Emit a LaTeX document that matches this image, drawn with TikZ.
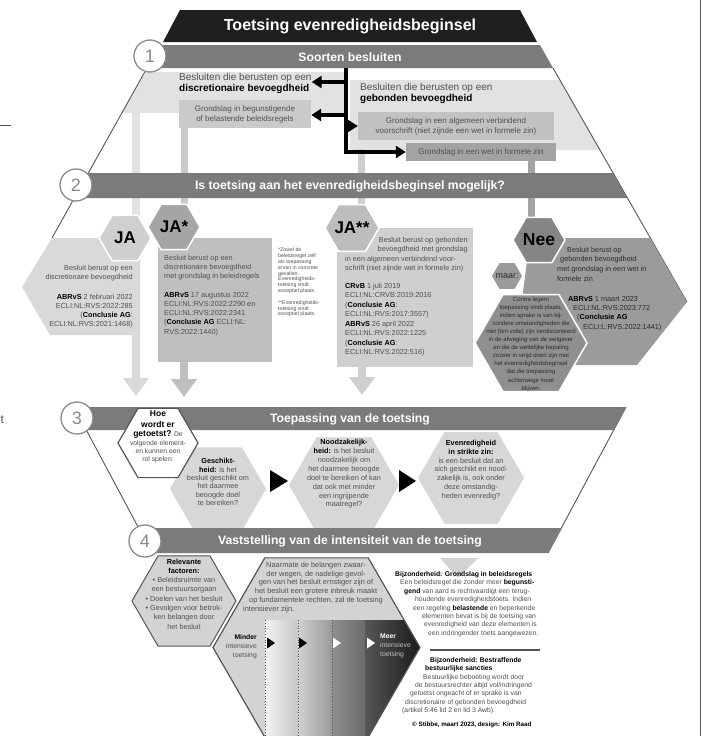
\documentclass[tikz,border=0pt]{standalone}
\usepackage{fontspec}
\setmainfont{Liberation Sans}
\usetikzlibrary{shapes.geometric,arrows.meta}

\definecolor{titlebar}{HTML}{1F1F1F}
\definecolor{barfill}{HTML}{7B7B7B}
\definecolor{ringgrey}{HTML}{8A8A8A}
\definecolor{paleregion}{HTML}{E2E2E2}
\definecolor{boxone}{HTML}{CACACA}
\definecolor{boxtwo}{HTML}{C2C2C2}
\definecolor{boxthree}{HTML}{A3A3A3}
\definecolor{jafill}{HTML}{D9D9D9}
\definecolor{jahex}{HTML}{CFCFCF}
\definecolor{jastarhex}{HTML}{A5A5A5}
\definecolor{jastarbox}{HTML}{BFBFBF}
\definecolor{jaduohex}{HTML}{BDBDBD}
\definecolor{jaduobox}{HTML}{CFCFCF}
\definecolor{neehex}{HTML}{858585}
\definecolor{neeshape}{HTML}{9B9B9B}
\definecolor{contrahex}{HTML}{8F8F8F}
\definecolor{maarhex}{HTML}{9A9A9A}
\definecolor{stephex}{HTML}{D7D7D7}
\definecolor{factorhex}{HTML}{D3D3D3}
\definecolor{edgegrey}{HTML}{555555}
\definecolor{bodytext}{HTML}{505050}
\definecolor{neetext}{HTML}{2B2B2B}

\newcommand{\fsz}[2]{\fontsize{#1}{#2}\selectfont}
\newcommand{\darkb}[1]{\textbf{\textcolor{black}{#1}}}

\tikzset{
  hexa/.style={regular polygon, regular polygon sides=6, minimum size=#1,
    inner sep=0pt, outer sep=0pt},
  ring/.style={circle, draw=ringgrey, line width=1.3pt, fill=white,
    minimum size=32pt, inner sep=0pt, text=ringgrey, font=\fsz{18}{18}},
  bartext/.style={text=white, font=\bfseries\fsz{12.2}{12.2}},
  body/.style={text=bodytext, font=\fsz{7.3}{9}, inner sep=0pt},
  boxtext/.style={text=bodytext, font=\fsz{8}{10}, inner sep=0pt, align=center},
  bignum/.style={text=black, font=\bfseries\fsz{17}{17}},
  trunk/.style={line width=3.6pt, -{Triangle[length=10pt,width=12pt]}},
  fatarrow/.style={line width=8pt, -{Triangle[length=18pt,width=25pt]}},
  rimline/.style={edgegrey, line width=0.9pt}
}

\begin{document}
\begin{tikzpicture}[x=1pt,y=-1pt]
  \fill[white] (0,0) rectangle (702,736);
  \useasboundingbox (0,0) rectangle (702,736);
  \draw[edgegrey, line width=0.8pt] (700,0) -- (700,736);
  \draw[edgegrey, line width=0.8pt] (0,125) -- (11,125);
  \node[anchor=base west, inner sep=0pt, text=edgegrey, font=\fsz{12}{12}] (stray) at (0.5,423) {t};

  \fill[titlebar] (180,10) -- (520,10) -- (537,42) -- (163,42) -- cycle;
  \node[text=white, font=\bfseries\fsz{16}{16}] (title) at (350,26) {Toetsing evenredigheidsbeginsel};

  \fill[paleregion] (146,72) -- (346,72) -- (346,113) -- (122,113) -- cycle;
  \fill[paleregion] (350,80) -- (560,80) -- (600,150) -- (350,150) -- cycle;
  \draw[rimline] (147,68) -- (52,238);
  \draw[rimline] (553,68) -- (687,302);

  \coordinate (shJA)    at (136,112);
  \coordinate (shJAend) at (136,225);
  \coordinate (shJAs)   at (184,127);
  \coordinate (shJAsend) at (184,215);
  \coordinate (shJAss)  at (361,149);
  \coordinate (shJAssend) at (361,215);
  \coordinate (shNee)   at (531,160);
  \coordinate (shNeeend) at (531,225);
  \draw[paleregion, line width=8pt] (shJA) -- (shJAend);
  \draw[boxone, line width=7pt] (shJAs) -- (shJAsend);
  \draw[jaduobox, line width=7pt] (shJAss) -- (shJAssend);
  \draw[boxthree, line width=7pt] (shNee) -- (shNeeend);

  \fill[barfill] (150,45) -- (540,45) -- (553,68) -- (150,68) -- cycle;
  \node[bartext] (sec1) at (350,57) {Soorten besluiten};

  \node[fill=boxone, minimum width=132pt, minimum height=28pt, boxtext] (beleid) at (245,114)
    {Grondslag in begunstigende\\of belastende beleidsregels};
  \node[fill=boxtwo, minimum width=196pt, minimum height=28pt, boxtext] (avv) at (456,126)
    {Grondslag in een algemeen verbindend\\voorschrift (niet zijnde een wet in formele zin)};
  \node[fill=boxthree, minimum width=150pt, minimum height=18pt, boxtext] (wfz) at (481,152)
    {Grondslag in een wet in formele zin};
  \node[anchor=north west, align=left, text=bodytext, font=\fsz{10}{11.5}, inner sep=0pt] (discr) at (179,72.7)
    {Besluiten die berusten op een\\\darkb{discretionaire bevoegdheid}};
  \node[anchor=north west, align=left, text=bodytext, font=\fsz{10}{11.5}, inner sep=0pt] (gebon) at (360,83)
    {Besluiten die berusten op een\\\darkb{gebonden bevoegdheid}};

  \coordinate (top) at (346,68);
  \coordinate (k1) at (346,82);
  \coordinate (k2) at (346,115);
  \coordinate (k3) at (346,126);
  \draw[trunk] (top) |- (wfz.west);
  \draw[trunk] (k1) -- (discr.east |- k1);
  \draw[trunk] (k2) -- (beleid.east |- k2);
  \draw[trunk] (k3) -- (avv.west |- k3);

  \fill[barfill] (76,173) -- (613,173) -- (627,198) -- (76,198) -- cycle;
  \node[bartext] (sec2) at (350,186) {Is toetsing aan het evenredigheidsbeginsel mogelijk?};

  \fill[jafill] (52,238) -- (140,238) -- (140,335) -- (50,335) -- (22,287) -- cycle;
  \node[hexa=52pt, fill=jahex, draw=white, line width=1.5pt] (hexJA) at (125,238) {};
  \node[bignum] (lblJA) at (hexJA) {JA};
  \node[body, anchor=north east, align=right] (txtJA) at (133,264.7)
    {Besluit berust op een\\discretionaire bevoegdheid\\[11pt]\darkb{ABRvS} 2 februari 2022\\ECLI:NL:RVS:2022:285\\(\darkb{Conclusie AG}:\\ECLI:NL:RVS:2021:1468)};

  \node[fill=jastarbox, minimum width=114pt, minimum height=124pt, inner sep=0pt] (boxJAs) at (215,300) {};
  \node[hexa=52pt, fill=jastarhex, draw=white, line width=1.5pt] (hexJAs) at (174,227) {};
  \node[bignum] (lblJAs) at (hexJAs) {JA*};
  \node[body, font=\fsz{7.3}{9.3}, anchor=north west, align=left] (txtJAs) at (164,254.7)
    {Besluit berust op een\\discretionaire bevoegdheid\\met grondslag in beleidregels\\[9pt]\darkb{ABRvS} 17 augustus 2022\\ECLI:NL:RVS:2022:2290 en\\ECLI:NL:RVS:2022:2341\\(\darkb{Conclusie AG} ECLI:NL:\\RVS:2022:1440)};

  \node[anchor=north west, align=left, text=bodytext, font=\fsz{5.2}{5.8}, inner sep=0pt] (note) at (278,248)
    {*Zowel de\\beleidsregel zelf\\als toepassing\\ervan in concrete\\gevallen.\\Evenredigheids-\\toetsing vindt\\exceptief plaats.\\[6pt]**Evenredigheids-\\toetsing vindt\\exceptief plaats.};

  \node[fill=jaduobox, minimum width=136pt, minimum height=139pt, inner sep=0pt] (boxJAss) at (405,297.5) {};
  \node[hexa=54pt, fill=jaduohex, draw=white, line width=1.5pt] (hexJAss) at (352,228) {};
  \node[bignum] (lblJAss) at (hexJAss) {JA**};
  \node[body, anchor=north east, align=right] (txtJAss) at (468,236.7)
    {Besluit berust op gebonden\\bevoegdheid met grondslag};
  \node[body, font=\fsz{7.3}{9.5}, anchor=north west, align=left] (txtJAss2) at (345,255.7)
    {in een algemeen verbindend voor-\\schrift (niet zijnde wet in formele zin)\\[8pt]\darkb{CRvB} 1 juli 2019\\ECLI:NL:CRVB:2019:2016\\(\darkb{Conclusie AG}:\\ECLI:NL:RVS:2017:3557)\\\darkb{ABRvS} 26 april 2022\\ECLI:NL:RVS:2022:1225\\(\darkb{Conclusie AG}:\\ECLI:NL:RVS:2022:516)};

  \fill[neeshape] (530,238) -- (650,238) -- (687,302) -- (637,365) -- (570,365) -- (522,300) -- cycle;
  \node[hexa=112pt, fill=contrahex, draw=white, line width=1.5pt] (hexContra) at (531,343) {};
  \node[hexa=32pt, fill=maarhex, draw=white, line width=1.5pt] (hexMaar) at (507,276) {};
  \node[hexa=52pt, fill=neehex, draw=white, line width=1.5pt] (hexNee) at (539,240) {};
  \node[bignum, font=\bfseries\fsz{17.5}{17.5}] (lblNee) at (hexNee) {Nee};
  \node[text=neetext, font=\fsz{9}{9}, inner sep=0pt] (lblMaar) at (hexMaar) {maar:};
  \node[align=center, text=neetext, font=\fsz{6}{8.1}, inner sep=0pt] (txtContra) at (531,344)
    {Contra legem\\toepassing vindt plaats,\\indien sprake is van bij-\\zondere omstandigheden die\\niet (ten volle) zijn verdisconteerd\\in de afweging van de wetgever\\en die de wettelijke bepaling\\zozeer in strijd doen zijn met\\het evenredigheidsbeginsel\\dat die toepassing\\achterwege moet\\blijven.};
  \foreach \nx/\ny/\nt in {567/252/{Besluit berust op}, 560/261/{gebonden bevoegdheid},
      557/271/{met grondslag in een wet in}, 557/281/{formele zin},
      568/301/{\darkb{ABRvS} 1 maart 2023}, 573/310/{ECLI:NL:RVS:2023:772},
      577/319/{(\darkb{Conclusie AG}}, 583/329/{ECLI:L:RVS:2022:1441)}}
    \node[body, text=neetext, anchor=base west] (nee\ny) at (\nx,\ny) {\nt};

  \coordinate (footJA) at (136,334);
  \coordinate (tipJA) at (136,396);
  \coordinate (footJAs) at (184,361);
  \coordinate (tipJAs) at (184,397);
  \coordinate (footJAss) at (362,366);
  \coordinate (tipJAss) at (362,395);
  \draw[fatarrow, jafill] (footJA) -- (tipJA);
  \draw[fatarrow, jastarbox] (footJAs) -- (tipJAs);
  \draw[fatarrow, jaduobox] (footJAss) -- (tipJAss);

  \draw[rimline] (74,407) -- (152,553);
  \draw[rimline] (626,407) -- (548,553);
  \fill[barfill] (77,407) -- (626,407) -- (614,430) -- (77,430) -- cycle;
  \node[bartext] (sec3) at (350,419) {Toepassing van de toetsing};

  \node[hexa=96pt, fill=stephex] (hexGes) at (218,489) {};
  \node[hexa=110pt, fill=stephex] (hexNood) at (344,485) {};
  \node[hexa=106pt, fill=stephex] (hexEven) at (471,478) {};
  \node[hexa=80pt, fill=white, draw=edgegrey, line width=1.2pt] (hexHoe) at (158,443) {};
  \fill[black] (270,470) -- (288,481) -- (270,492) -- cycle;
  \fill[black] (399,470) -- (416,481) -- (399,492) -- cycle;
  \node[align=center, text=bodytext, font=\fsz{6.8}{8.3}, inner sep=0pt] (txtHoe) at (158,437)
    {\darkb{\fsz{8.5}{10}Hoe}\\[2.5pt]\darkb{\fsz{8.5}{10}wordt er}\\[1pt]\darkb{\fsz{8.5}{10}getoetst?} De\\volgende element-\\en kunnen een\\rol spelen:};
  \node[align=center, text=bodytext, font=\fsz{7.3}{8.3}, inner sep=0pt] (txtGes) at (218,482)
    {\darkb{Geschikt-}\\\darkb{heid:} is het\\besluit geschikt om\\het daarmee\\beoogde doel\\te bereiken?};
  \node[align=center, text=bodytext, font=\fsz{7.3}{8.85}, inner sep=0pt] (txtNood) at (344,474)
    {\darkb{Noodzakelijk-}\\\darkb{heid:} is het besluit\\noodzakelijk om\\het daarmee beoogde\\doel te bereiken of kan\\dat ook met minder\\een ingrijpende\\maatregel?};
  \node[align=center, text=bodytext, font=\fsz{7.3}{8.8}, inner sep=0pt] (txtEven) at (471,470)
    {\darkb{Evenredigheid}\\\darkb{in strikte zin:}\\is een besluit dat an\\sich geschikt en nood-\\zakelijk is, ook onder\\deze omstandig-\\heden evenredig?};

  \fill[barfill] (145,528) -- (562,528) -- (548,553) -- (145,553) -- cycle;
  \node[bartext] (sec4) at (350,541) {Vaststelling van de intensiteit van de toetsing};

  \fill[factorhex] (440,558) -- (478,558) -- (458,578) -- cycle;
  \node[hexa=104pt, fill=factorhex, draw=edgegrey, line width=1pt] (hexFactor) at (184,601) {};
  \node[align=center, text=bodytext, font=\fsz{7.3}{9.3}, inner sep=0pt] (txtFactor) at (184,594)
    {\darkb{Relevante}\\\darkb{factoren:}\\\textbullet{} Beleidsruimte van\\een bestuursorgaan\\\textbullet{} Doelen van het besluit\\\textbullet{} Gevolgen voor betrok-\\ken belangen door\\het besluit};

  \node[hexa=207pt, fill=factorhex] (hexGrad) at (316.5,647.5) {};
  \begin{scope}
    \clip (hexGrad.corner 1) -- (hexGrad.corner 2) -- (hexGrad.corner 3) -- (hexGrad.corner 4)
      -- (hexGrad.corner 5) -- (hexGrad.corner 6) -- cycle;
    \shade[left color=white!95!black, right color=black!22] (265,620) rectangle (298,740);
    \shade[left color=black!18, right color=black!40] (298,620) rectangle (332,740);
    \shade[left color=black!44, right color=black!58] (332,620) rectangle (365,740);
    \shade[left color=black!66, right color=black!92] (365,620) rectangle (425,740);
  \end{scope}
  \draw[edgegrey, line width=1.2pt] (hexGrad.corner 1) -- (hexGrad.corner 2) -- (hexGrad.corner 3)
    -- (hexGrad.corner 4) -- (hexGrad.corner 5) -- (hexGrad.corner 6) -- cycle;
  \foreach \dx in {265,298,332,365}
    \draw[edgegrey, dotted, line width=0.8pt] (\dx,620) -- (\dx,736);
  \foreach \tx/\tc in {267/black, 299/black, 333/white, 367/white}
    \fill[\tc] (\tx,637.5) -- ++(8,5.5) -- ++(-8,5.5) -- cycle;
  \node[align=center, text=bodytext, font=\fsz{7.4}{8.8}, inner sep=0pt] (txtGrad) at (316,583)
    {Naarmate de belangen zwaar-\\der wegen, de nadelige gevol-\\gen van het besluit ernstiger zijn of\\het besluit een grotere inbreuk maakt\\op fundamentele rechten, zal de toetsing};
  \node[body, font=\fsz{7.4}{8.8}, anchor=base west] (txtGrad2) at (243,611.5) {intensiever zijn.};
  \node[body, font=\fsz{6.8}{9}, anchor=north east, align=right] (txtMinder) at (257,634)
    {\darkb{Minder}\\intensieve\\toetsing};
  \node[body, font=\fsz{6.8}{9}, text=black!25, anchor=north west, align=left] (txtMeer) at (380,634)
    {\textbf{\textcolor{white}{Meer}}\\intensieve\\toetsing};

  \foreach \bx/\by/\bt in {395/576/{\darkb{Bijzonderheid: Grondslag in beleidsregels}},
      400/584/{Een beleidsregel die zonder meer \darkb{begunsti-}},
      404/593/{\darkb{gend} van aard is rechtvaardigt een terug-},
      415/601/{houdende evenredigheidstoets. Indien},
      413/610/{een regeling \darkb{belastende} en beperkende},
      422/618/{elementen bevat is bij de toetsing van},
      424/626/{evenredigheid van deze elementen is},
      428/635/{een indringender toets aangewezen.},
      430/662/{\darkb{Bijzonderheid: Bestraffende}},
      425/670/{\darkb{bestuurlijke sancties}},
      423/679/{Bestuurlijke beboeting wordt door},
      415/687/{de bestuursrechter altijd vol/indringend},
      410/695/{getoetst ongeacht of er sprake is van},
      405/704/{discretionaire of gebonden bevoegdheid},
      402/712/{(artikel 5:46 lid 2 en lid 3 Awb).}}
    \node[body, font=\fsz{6.8}{8}, anchor=base west] (bz\by) at (\bx,\by) {\bt};
  \draw[edgegrey, line width=1.2pt] (430,650) -- (540,650);
  \node[anchor=base west, inner sep=0pt, font=\bfseries\fsz{6.3}{7}] (credit) at (412,726)
    {\textcopyright{} Stibbe, maart 2023, design: Kim Raad};

  \node[ring] (num1) at (150,56) {1};
  \node[ring] (num2) at (76,185) {2};
  \node[ring] (num3) at (77,418) {3};
  \node[ring] (num4) at (145,541) {4};
\end{tikzpicture}
\end{document}
